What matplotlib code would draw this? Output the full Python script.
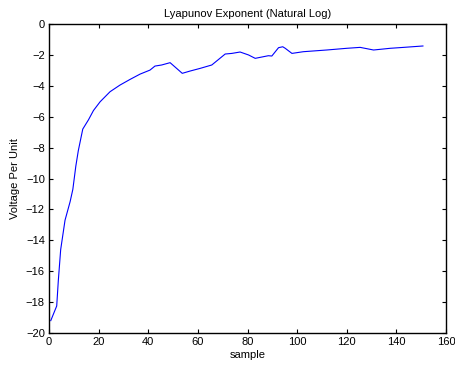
import matplotlib
matplotlib.use('Agg')
import matplotlib.pyplot as plt

plt.rcParams['font.family'] = ['Liberation Sans', 'DejaVu Sans']

muestra = [0.7, 3.1, 3.75, 4.7, 6.45, 8.5, 9.6, 10.8, 11.8, 13.6, 15.9, 17.9,
           20.6, 24.6, 28.6, 32.7, 36.7, 40.7, 42.7, 45.4, 48.8, 53.7, 56.9,
           60.9, 65.6, 71.0, 73.7, 77.0, 80.4, 83.1, 88.4, 89.8, 92.5, 94.2,
           95.2, 97.9, 102.5, 111.9, 120.0, 125.4, 130.8, 137.5, 142.9, 150.7]
lyap = [-19.2, -18.25, -16.6, -14.6, -12.7, -11.5, -10.7, -9.2, -8.2, -6.8,
        -6.2, -5.6, -5.03, -4.38, -3.95, -3.58, -3.24, -2.98, -2.72, -2.65,
        -2.5, -3.19, -3.04, -2.87, -2.65, -1.94, -1.9, -1.81, -2.0, -2.22,
        -2.05, -2.07, -1.53, -1.47, -1.57, -1.9, -1.79, -1.68, -1.57, -1.51,
        -1.68, -1.57, -1.51, -1.42]

xticks = list(range(0, 161, 20))
yticks = list(range(-20, 1, 2))

fig = plt.figure(figsize=(4.56, 3.70), dpi=100)
ax = fig.add_axes([0.1075, 0.1, 0.8706, 0.835])
ax.plot(muestra, lyap, color='blue', linewidth=0.8)

ax.set_xlim(0, 160)
ax.set_ylim(-20, 0)
ax.set_xticks(xticks)
ax.set_yticks(yticks)
ax.tick_params(direction='in', length=3, width=0.8, labelsize=8,
               top=True, right=True, pad=3)
for s in ax.spines.values():
    s.set_linewidth(1.0)

ax.set_title('Lyapunov Exponent (Natural Log)', fontsize=8, pad=5)
ax.set_xlabel('sample', fontsize=8, labelpad=2)
ax.set_ylabel('Voltage Per Unit', fontsize=8, labelpad=4)

fig.savefig('out.png', dpi=100)
